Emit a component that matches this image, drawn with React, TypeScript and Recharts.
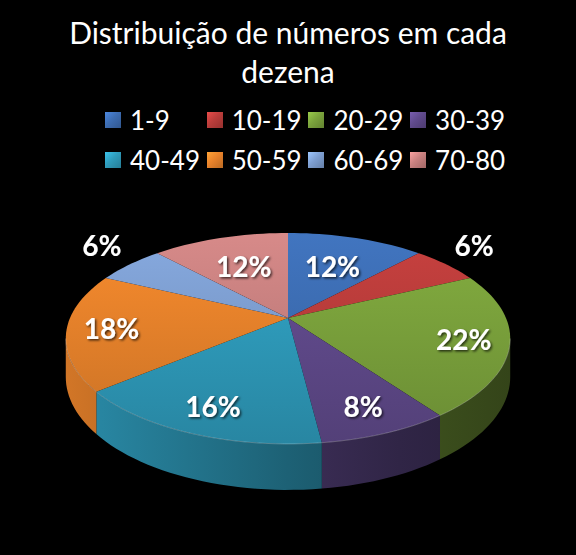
import React from 'react';
import { PieChart, Pie, Cell, Legend } from 'recharts';

const CATEGORIES = ['1-9', '10-19', '20-29', '30-39', '40-49', '50-59', '60-69', '70-80'];
const PERCENTS = [12, 6, 22, 8, 16, 18, 6, 12];
const COLORS = ['#3d6db3', '#bb3d3b', '#7ba33c', '#604a8c', '#2f9cbc', '#e9832b', '#7e9fd1', '#c98180'];
const TITLE_LINES = ['Distribuição de números em cada', 'dezena'];

const data = CATEGORIES.map((name, i) => ({ name, value: PERCENTS[i] }));

const FONT = 'Lato, "Open Sans", sans-serif';
const TILT = 0.4656;
const PERSP = 0.194;
const DEPTH = 0.17;
const VIS_A = (Math.acos(-PERSP) * 180) / Math.PI;
const VIS_B = 360 - VIS_A;

function shade(hex: string, f: number): string {
  const n = parseInt(hex.slice(1), 16);
  const ch = [(n >> 16) & 255, (n >> 8) & 255, n & 255].map((v) => Math.max(0, Math.min(255, Math.round(v * f))));
  return '#' + ch.map((v) => v.toString(16).padStart(2, '0')).join('');
}

function project(cx: number, cy: number, r: number, thetaDeg: number, rho: number) {
  const t = (thetaDeg * Math.PI) / 180;
  const s = Math.sin(t);
  const c = Math.cos(t);
  const d = 1 + PERSP * rho * c;
  return { x: cx + (r * rho * s) / d, y: cy - (r * TILT * rho * c) / d, c };
}

function Slice3D(props: any) {
  const { cx, cy, outerRadius, startAngle, endAngle, index, value } = props;
  const r = outerRadius;
  const t0 = 90 - startAngle;
  const t1 = 90 - endAngle;
  const color = COLORS[index % COLORS.length];
  const steps = Math.max(4, Math.ceil((t1 - t0) / 2));
  const top: string[] = [`M${cx},${cy}`];
  for (let k = 0; k <= steps; k++) {
    const p = project(cx, cy, r, t0 + ((t1 - t0) * k) / steps, 1);
    top.push(`L${p.x.toFixed(2)},${p.y.toFixed(2)}`);
  }
  top.push('Z');

  const lo = Math.max(t0, VIS_A);
  const hi = Math.min(t1, VIS_B);
  let wall: string | null = null;
  let rim: string | null = null;
  if (lo < hi) {
    const ws = Math.max(4, Math.ceil((hi - lo) / 2));
    const upper: { x: number; y: number; c: number }[] = [];
    for (let k = 0; k <= ws; k++) upper.push(project(cx, cy, r, lo + ((hi - lo) * k) / ws, 1));
    const segs: string[] = [];
    upper.forEach((p, k) => segs.push(`${k === 0 ? 'M' : 'L'}${p.x.toFixed(2)},${p.y.toFixed(2)}`));
    rim = segs.join(' ');
    for (let k = upper.length - 1; k >= 0; k--) {
      const p = upper[k];
      const yb = p.y + (DEPTH * r) / (1 + PERSP * p.c);
      segs.push(`L${p.x.toFixed(2)},${yb.toFixed(2)}`);
    }
    segs.push('Z');
    wall = segs.join(' ');
  }

  const mid = (t0 + t1) / 2;
  const cm = Math.cos((mid * Math.PI) / 180);
  const outside = value <= 6;
  const rho = outside ? 1.2 : 0.8 - 0.2 * Math.max(0, cm);
  const lp = project(cx, cy, r, mid, rho);
  const ly = outside ? lp.y - 10 : lp.y;

  const yTop = cy - (r * TILT) / (1 + PERSP);
  const yBot = cy + (r * TILT) / (1 - PERSP);
  const gTop = `top-${index}`;
  const gWall = `wall-${index}`;
  const fl = `lbl-${index}`;
  return (
    <g>
      <defs>
        <linearGradient id={gTop} gradientUnits="userSpaceOnUse" x1={0} y1={yTop} x2={0} y2={yBot}>
          <stop offset="0" stopColor={shade(color, 1.07)} />
          <stop offset="1" stopColor={shade(color, 0.86)} />
        </linearGradient>
        <linearGradient id={gWall} gradientUnits="userSpaceOnUse" x1={cx - r * 1.02} y1={0} x2={cx + r * 1.02} y2={0}>
          <stop offset="0" stopColor={shade(color, 0.9)} />
          <stop offset="0.5" stopColor={shade(color, 0.62)} />
          <stop offset="0.75" stopColor={shade(color, 0.5)} />
          <stop offset="1" stopColor={shade(color, 0.42)} />
        </linearGradient>
        <filter id={fl} x="-30%" y="-30%" width="160%" height="160%">
          <feDropShadow dx="1.5" dy="1.5" stdDeviation="1.2" floodColor="#000" floodOpacity="0.7" />
        </filter>
      </defs>
      {wall && <path d={wall} fill={`url(#${gWall})`} stroke="none" />}
      <path d={top.join(' ')} fill={`url(#${gTop})`} stroke="none" />
      {rim && <path d={rim} fill="none" stroke="rgba(255,255,255,0.25)" strokeWidth={1} />}
      <text
        x={lp.x}
        y={ly}
        textAnchor="middle"
        dominantBaseline="central"
        fill="#ffffff"
        fontFamily={FONT}
        fontWeight="bold"
        fontSize={28}
        filter={`url(#${fl})`}
      >
        {`${value}%`}
      </text>
    </g>
  );
}

function LegendContent(props: any) {
  const items = (props.payload || []).filter((it: any) => it.type !== 'none');
  return (
    <div
      style={{
        display: 'grid',
        gridTemplateColumns: 'repeat(4, 101.7px)',
        gridAutoRows: '40px',
        paddingLeft: 105,
        fontFamily: FONT,
        fontSize: 26,
        color: '#ffffff',
      }}
    >
      {items.map((it: any, i: number) => (
        <div key={i} style={{ display: 'flex', alignItems: 'center', whiteSpace: 'nowrap' }}>
          <span
            style={{
              display: 'inline-block',
              width: 16,
              height: 16,
              marginRight: 9,
              background: `linear-gradient(135deg, ${shade(it.color, 1.25)} 0%, ${it.color} 45%, ${shade(it.color, 0.8)} 100%)`,
            }}
          />
          <span>{it.value}</span>
        </div>
      ))}
    </div>
  );
}

export default function App() {
  return (
    <div style={{ position: 'fixed', left: 0, top: 0, width: 576, height: 555, background: '#000000', overflow: 'hidden' }}>
      <div
        style={{
          position: 'absolute',
          left: 0,
          top: 13,
          width: 576,
          textAlign: 'center',
          color: '#ffffff',
          fontFamily: FONT,
          fontSize: 30,
          lineHeight: '39px',
          zIndex: 2,
        }}
      >
        {TITLE_LINES.map((t, i) => (
          <div key={i}>{t}</div>
        ))}
      </div>
      <PieChart width={576} height={555} margin={{ top: 0, right: 0, bottom: 0, left: 0 }}>
        <Pie
          data={data}
          dataKey="value"
          nameKey="name"
          cx={288}
          cy={318}
          outerRadius={218}
          startAngle={90}
          endAngle={-270}
          stroke="none"
          isAnimationActive={false}
          label={Slice3D}
          labelLine={false}
        >
          {data.map((d, i) => (
            <Cell key={d.name} fill={COLORS[i]} fillOpacity={0} />
          ))}
        </Pie>
        <Legend
          layout="horizontal"
          align="center"
          verticalAlign="middle"
          content={LegendContent}
          wrapperStyle={{ top: 100, left: 0, width: 576, height: 80 }}
        />
      </PieChart>
    </div>
  );
}
